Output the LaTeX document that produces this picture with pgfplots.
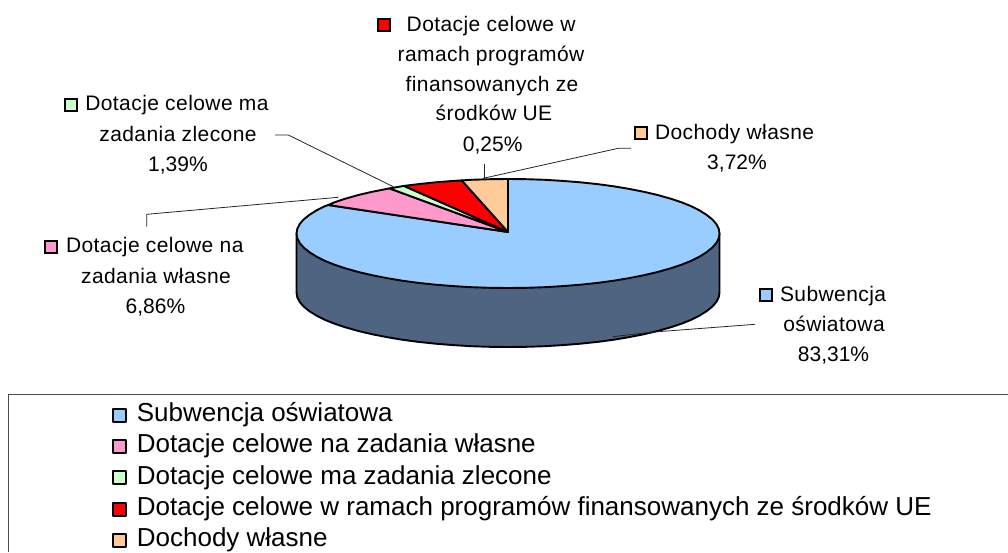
\documentclass[border=0pt]{standalone}
\usepackage{pgfplots}
\pgfplotsset{compat=1.18}
\usepackage{fontspec}
\setmainfont{Liberation Sans}
\newfontfamily\labsp[LetterSpace=2]{Liberation Sans}
\definecolor{cblue}{HTML}{99CCFF}
\definecolor{cpink}{HTML}{FF99CC}
\definecolor{cgreen}{HTML}{CCFFCC}
\definecolor{cred}{HTML}{FF0000}
\definecolor{cpeach}{HTML}{FFCC99}
\definecolor{cside}{HTML}{4F6481}
\newcommand{\lab}{\fontsize{21}{25}\selectfont}
\begin{document}
\begin{tikzpicture}[x=1pt,y=1pt]
\begin{axis}[at={(0,0)},anchor=south west,scale only axis,width=1008pt,height=552pt,
  xmin=0,xmax=1008,ymin=0,ymax=552,y dir=reverse,hide axis,clip=false,
  legend cell align=left,
  legend image code/.code={\path[#1,line width=2pt] (0pt,0pt) rectangle (13pt,13pt);},
  legend style={at={(0.111,0.271)},anchor=north west,draw=none,fill=none,inner sep=0pt,outer sep=0pt,
    row sep=10.9pt,column sep=10pt,font=\fontsize{26}{29}\selectfont,nodes={inner sep=0pt,outer sep=0pt,anchor=base west}},
  slice/.style={draw=black,line width=1.9pt,line join=round,mark=none},
  leader/.style={draw=black!85,line width=0.8pt,mark=none,forget plot},
  swatch/.style={only marks,mark=square*,mark size=6pt,mark options={draw=black,line width=2pt,fill=#1},forget plot}]
% side
\addplot[slice,fill=cside,forget plot] coordinates {(296.5,233.5)(296.5,292.5)(297.3,297.25)(299.7,302)(303.7,306.6)(309.3,311.1)(316.3,315.5)(324.8,319.8)(334.7,323.8)(346,327.5)(358.4,331)(372.1,334.2)(386.7,337.1)(402.2,339.7)(418.6,341.9)(435.7,343.7)(453.3,345.1)(471.3,346.2)(489.6,346.8)(508,347)(526.4,346.8)(544.7,346.2)(562.7,345.1)(580.3,343.7)(597.4,341.9)(613.8,339.7)(629.3,337.1)(643.9,334.2)(657.6,331)(670,327.5)(681.3,323.8)(691.2,319.8)(699.7,315.5)(706.7,311.1)(712.3,306.6)(716.3,302)(718.7,297.25)(719.5,292.5)(719.5,233.5)} -- cycle;
% top slices
\addplot[slice,fill=cblue] coordinates {(508,232)(508,179)(526.4,179.2)(544.7,179.8)(562.7,180.9)(580.3,182.3)(597.4,184.1)(613.8,186.3)(629.3,188.9)(643.9,191.8)(657.6,195)(670,198.5)(681.3,202.2)(691.2,206.2)(699.7,210.5)(706.7,214.9)(712.3,219.4)(716.3,224)(718.7,228.75)(719.5,233.5)(718.7,238.25)(716.3,243)(712.3,247.6)(706.7,252.1)(699.7,256.5)(691.2,260.8)(681.3,264.8)(670,268.5)(657.6,272)(643.9,275.2)(629.3,278.1)(613.8,280.7)(597.4,282.9)(580.3,284.7)(562.7,286.1)(544.7,287.2)(526.4,287.8)(508,288)(489.6,287.8)(471.3,287.2)(453.3,286.1)(435.7,284.7)(418.6,282.9)(402.2,280.7)(386.7,278.1)(372.1,275.2)(358.4,272)(346,268.5)(334.7,264.8)(324.8,260.8)(316.3,256.5)(309.3,252.1)(303.7,247.6)(299.7,243)(297.3,238.25)(296.5,233.5)(297.3,228.75)(299.7,224)(303.7,219.4)(309.3,214.9)(316.3,210.5)(324.8,206.2)(328.3,205)} -- cycle;
\addlegendentry{Subwencja oświatowa}
\addplot[slice,fill=cpink] coordinates {(508,232)(328.3,205)(334.7,202.2)(346,198.5)(358.4,195)(372.1,191.8)(386.7,188.9)(389.5,188.4)} -- cycle;
\addlegendentry{Dotacje celowe na zadania własne}
\addplot[slice,fill=cgreen] coordinates {(508,232)(389.5,188.4)(404,185.9)} -- cycle;
\addlegendentry{Dotacje celowe ma zadania zlecone}
\addplot[slice,fill=cred] coordinates {(508,232)(404,185.9)(418.6,184.1)(435.7,182.3)(453.3,180.9)(461.7,180.4)} -- cycle;
\addlegendentry{Dotacje celowe w ramach programów finansowanych ze środków UE}
\addplot[slice,fill=cpeach] coordinates {(508,232)(461.7,180.4)(471.3,179.8)(489.6,179.2)(508,179)} -- cycle;
\addlegendentry{Dochody własne}
% leaders
\addplot[leader] coordinates {(275,135)(288.3,135)(393.3,186.7)};
\addplot[leader] coordinates {(146.7,226.7)(146.7,214.3)(338.3,197.3)};
\addplot[leader] coordinates {(484,164)(484,178)};
\addplot[leader] coordinates {(631,148.3)(618.3,148.3)(483.3,178.3)};
\addplot[leader] coordinates {(755,324.3)(650,332.3)(613,336.7)};
% frame
\addplot[draw=black!70,line width=1pt,mark=none,forget plot] coordinates {(8,552)(8,394.5)(1008,394.5)};
% label swatches
\addplot[swatch=cred] coordinates {(384,25)};
\addplot[swatch=cgreen] coordinates {(70.7,105.3)};
\addplot[swatch=cpink] coordinates {(50.7,247)};
\addplot[swatch=cpeach] coordinates {(640.7,133.3)};
\addplot[swatch=cblue] coordinates {(765.7,294.7)};
% labels
\begin{scope}[every node/.style={inner sep=0pt,outer sep=0pt,font=\lab}]
\node[anchor=base west] at (axis cs:406.7,31) {\labsp Dotacje celowe w};
\node[anchor=base] at (axis cs:491,61) {\labsp ramach programów};
\node[anchor=base] at (axis cs:492,91) {\labsp finansowanych ze};
\node[anchor=base] at (axis cs:494,120.7) {\labsp środków UE};
\node[anchor=base] at (axis cs:492.7,151) {0,25\%};
\node[anchor=base west] at (axis cs:85.3,110.7) {\labsp Dotacje celowe ma};
\node[anchor=base] at (axis cs:178,141) {\labsp zadania zlecone};
\node[anchor=base] at (axis cs:178,171) {1,39\%};
\node[anchor=base west] at (axis cs:66,252.3) {\labsp Dotacje celowe na};
\node[anchor=base] at (axis cs:156,283.3) {\labsp zadania własne};
\node[anchor=base] at (axis cs:155.5,313.3) {6,86\%};
\node[anchor=base west] at (axis cs:655,139.3) {\labsp Dochody własne};
\node[anchor=base] at (axis cs:737,169) {3,72\%};
\node[anchor=base west] at (axis cs:780,301) {\labsp Subwencja};
\node[anchor=base] at (axis cs:834,331) {\labsp oświatowa};
\node[anchor=base] at (axis cs:833.5,361) {83,31\%};
\end{scope}
\end{axis}
\pgfresetboundingbox
\useasboundingbox (0,0) rectangle (1008pt,552pt);
\end{tikzpicture}
\end{document}
